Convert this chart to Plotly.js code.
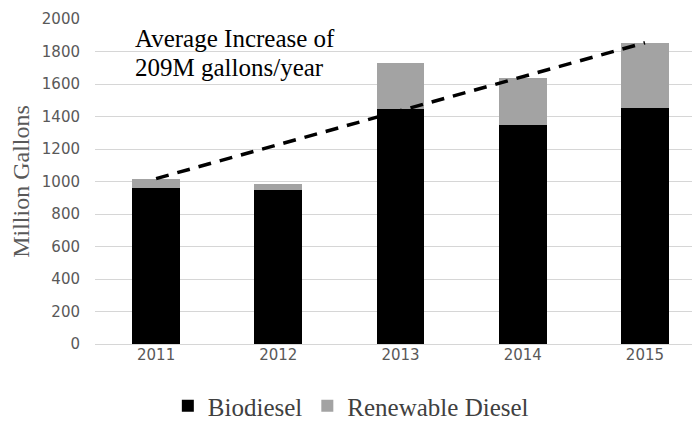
<!DOCTYPE html>
<html>
<head>
<meta charset="utf-8">
<script src="https://cdn.plot.ly/plotly-3.0.1.min.js"></script>
<style>
  html, body { margin: 0; padding: 0; background: #fff; }
  #chart { width: 697px; height: 423px; }
</style>
</head>
<body>
<div id="chart"></div>
<script>
// U.S. biomass-based diesel consumption, million gallons
const years = [2011, 2012, 2013, 2014, 2015];
const biodiesel = [960, 945, 1445, 1350, 1450];
const renewableDiesel = [55, 40, 282, 287, 400];

// Average-increase trend line endpoints
const trendYears = [2011, 2015];
const trendValues = [1018, 1854];

const yTicks = [0, 200, 400, 600, 800, 1000, 1200, 1400, 1600, 1800, 2000];

const serif = '"Liberation Serif", "Times New Roman", serif';
const sans = '"DejaVu Sans", Arial, sans-serif';

const traces = [
  {
    type: 'bar', name: 'Biodiesel', x: years, y: biodiesel,
    width: 0.39, marker: { color: '#000000' },
    hoverinfo: 'x+y'
  },
  {
    type: 'bar', name: 'Renewable Diesel', x: years, y: renewableDiesel,
    width: 0.39, marker: { color: '#a3a3a3' },
    hoverinfo: 'x+y'
  },
  {
    type: 'scatter', mode: 'lines', x: trendYears, y: trendValues,
    line: { color: '#000000', width: 3.5, dash: '13px,9px' },
    showlegend: false, hoverinfo: 'skip'
  }
];

const layout = {
  width: 697, height: 423,
  margin: { l: 95, r: 5, t: 18.5, b: 79 },
  paper_bgcolor: '#ffffff', plot_bgcolor: '#ffffff',
  barmode: 'stack',
  showlegend: true,
  legend: {
    orientation: 'h',
    xref: 'paper', x: 0.122, xanchor: 'left',
    yref: 'container', y: 0.04, yanchor: 'middle',
    font: { family: serif, size: 25, color: '#404040' },
    itemwidth: 30, traceorder: 'normal', tracegroupgap: 0
  },
  xaxis: {
    type: 'linear', range: [2010.5, 2015.385],
    tickvals: years, ticktext: years.map(String),
    showgrid: false, zeroline: false, showline: false, ticks: '',
    tickfont: { family: sans, size: 15, color: '#595959' },
    fixedrange: true
  },
  yaxis: {
    range: [0, 2000], tickvals: yTicks,
    showgrid: true, gridcolor: '#d6d6d6', gridwidth: 1,
    zeroline: true, zerolinecolor: '#d6d6d6', zerolinewidth: 1,
    showline: false, ticks: '', ticklabelstandoff: 14,
    tickfont: { family: sans, size: 15, color: '#595959' },
    title: { text: 'Million Gallons', font: { family: serif, size: 24, color: '#595959' }, standoff: 5 },
    fixedrange: true
  },
  annotations: [
    {
      xref: 'paper', yref: 'paper', x: 0.063, y: 0.94, xanchor: 'left', yanchor: 'middle',
      showarrow: false, text: 'Average Increase of',
      font: { family: serif, size: 25, color: '#000000' }
    },
    {
      xref: 'paper', yref: 'paper', x: 0.063, y: 0.851, xanchor: 'left', yanchor: 'middle',
      showarrow: false, text: '209M gallons/year',
      font: { family: serif, size: 25, color: '#000000' }
    }
  ]
};

Plotly.newPlot('chart', traces, layout, { displayModeBar: false, staticPlot: true });
</script>
</body>
</html>
